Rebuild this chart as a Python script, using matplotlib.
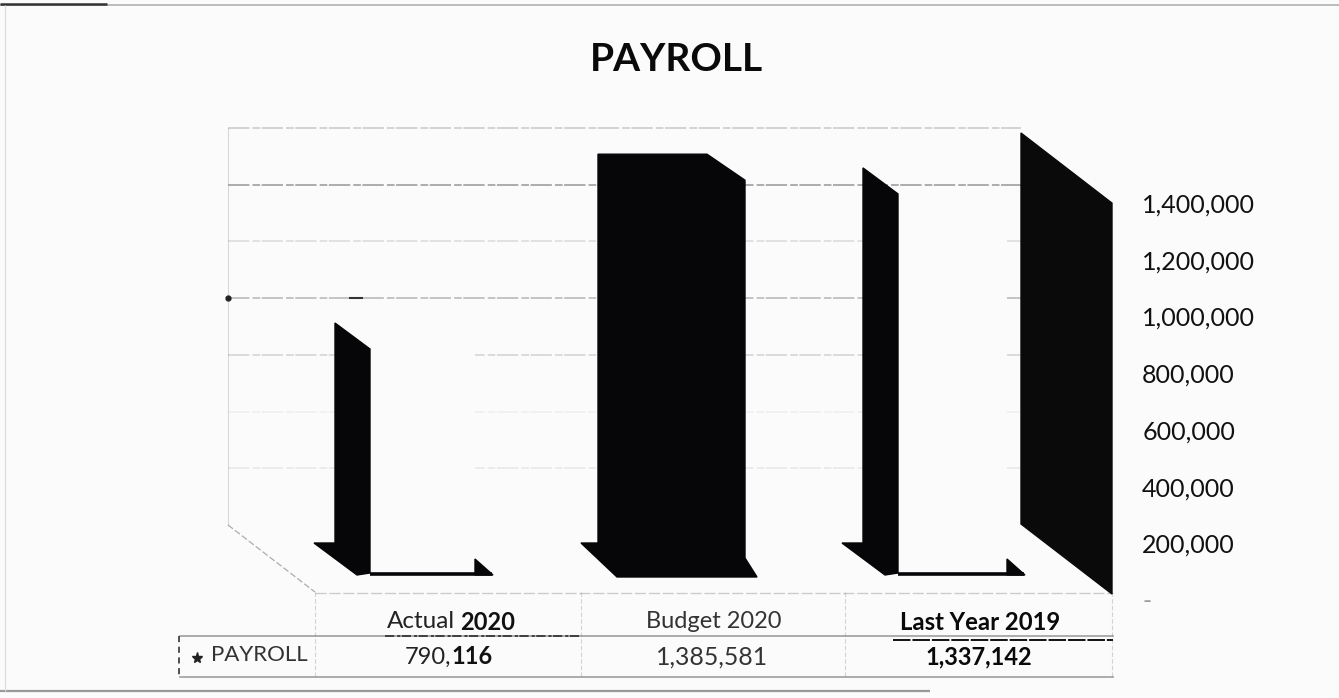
import matplotlib
matplotlib.use("Agg")
import matplotlib.pyplot as plt
from matplotlib.patches import Polygon, Rectangle

categories = ["Actual", "Budget", "Last Year"]
years = ["2020", "2020", "2019"]
payroll = [790116, 1385581, 1337142]
wall_value = 1400000
ticks = [0, 200000, 400000, 600000, 800000, 1000000, 1200000, 1400000]
tick_labels = ["-", "200,000", "400,000", "600,000", "800,000", "1,000,000", "1,200,000", "1,400,000"]

# layout, in pixels of the 1339x698 picture
side_left = [335, 598, 863]
front_left = [370, 598, 898]
front_right = [475, 745, 1007]
DEPTH_X, DEPTH_Y = 36, 26
PX = 200000 / 56.7  # payroll units per pixel
ZERO = 600          # picture row of value 0 on the axis


def yp(row):
    # picture row -> value units
    return (ZERO - row) * PX


BG = "#fbfbfb"
plt.rcParams["font.family"] = ["Lato", "DejaVu Sans"]

fig = plt.figure(figsize=(13.39, 6.98), dpi=100, facecolor=BG)
ax = fig.add_axes([0, 0, 1113 / 1339, 1])
ax.set_facecolor(BG)
ax.set_xlim(0, 1113)
ax.set_ylim(yp(698), yp(0))
for s in ax.spines.values():
    s.set_visible(False)
ax.xaxis.set_visible(False)
ax.yaxis.tick_right()
ax.set_yticks(ticks)
ax.set_yticklabels(tick_labels)
ax.tick_params(axis="y", length=0, pad=21, labelsize=18, labelcolor="#111111")
ax.get_yticklabels()[0].set_color("#999999")

# back wall gridlines, wall zero sits 75 px above the axis zero
wall_zero = yp(525)
grid_alpha = [0, 0.12, 0.08, 0.25, 0.42, 0.2, 0.6, 0.3]
for t, a in zip(ticks, grid_alpha):
    if a:
        ax.plot([228, 1021], [wall_zero + t] * 2, color="#555555", lw=1.1, alpha=a,
                ls=(0, (14, 2, 5, 1)), zorder=1)
ax.plot([228, 228], [wall_zero, wall_zero + wall_value], color="#999999", lw=0.8, alpha=0.35, zorder=1)
ax.plot([228, 315], [yp(525), yp(592)], color="#777777", lw=0.9, ls=(0, (5, 2)), alpha=0.6, zorder=1)
ax.plot([228], [wall_zero + 800000], marker="o", ms=3.5, color="#222222", zorder=2)
ax.plot([350, 362], [wall_zero + 800000] * 2, color="#333333", lw=1.5, zorder=2)

# right side wall
ax.add_patch(Polygon([(1021, yp(524)), (1021, yp(133)), (1112, wall_value), (1112, yp(594))],
                     color="#0a0a0a", zorder=3))

# bars: black side and feet, second bar is black at the front too
for i, v in enumerate(payroll):
    top = yp(573) + v
    top_back = top + DEPTH_Y * PX
    if i == 1:
        pts = [(598, top_back), (707, top_back), (front_right[i], top), (745, yp(558)),
               (757, yp(577)), (617, yp(577)), (581, yp(543)), (598, yp(543))]
        ax.add_patch(Polygon(pts, color="#060608", zorder=3))
        continue
    ax.add_patch(Rectangle((front_left[i], yp(572)), front_right[i] - front_left[i], v,
                           facecolor=BG, edgecolor="none", zorder=3))
    pts = [(side_left[i], top_back), (front_left[i], top), (front_left[i], yp(573)),
           (side_left[i] + 22, yp(575)), (side_left[i] - 21, yp(543)), (side_left[i], yp(543))]
    ax.add_patch(Polygon(pts, color="#060608", zorder=4))
    ax.plot([front_left[i], front_right[i] + 17], [yp(573.5)] * 2, color="#060608", lw=2.6,
            solid_capstyle="butt", zorder=4)
    ax.add_patch(Polygon([(front_right[i], yp(559)), (front_right[i] + 18, yp(575)), (front_right[i], yp(575))],
                         color="#060608", zorder=4))

# data table under the chart
line_kw = dict(color="#777777", clip_on=False, zorder=2)
ax.plot([315, 1113], [yp(593)] * 2, lw=1.0, alpha=0.35, ls=(0, (8, 2)), **line_kw)
ax.plot([180, 1113], [yp(636)] * 2, lw=1.2, alpha=0.7, **line_kw)
ax.plot([180, 1113], [yp(677)] * 2, lw=1.2, alpha=0.7, **line_kw)
ax.plot([385, 580], [yp(636)] * 2, color="#222222", lw=1.1, ls=(0, (6, 2, 2, 1)), zorder=3)
ax.plot([893, 1113], [yp(640)] * 2, color="#111111", lw=1.4, ls=(0, (9, 1)), zorder=3)
for x in [315, 581, 845, 1112]:
    ax.plot([x, x], [yp(592), yp(677)], lw=0.8, alpha=0.3, ls=(0, (4, 2)), **line_kw)
ax.plot([179, 179], [yp(636), yp(677)], color="#222222", lw=1.1, ls=(0, (4, 3)), zorder=3)

row_head = 622
row_val = 657
ax.text(455, yp(row_head), categories[0], ha="right", va="center", fontsize=17.5, color="#222222")
ax.text(460, yp(row_head), years[0], ha="left", va="center", fontsize=17, fontweight="bold", color="#111111")
ax.text(714, yp(row_head), categories[1] + " " + years[1], ha="center", va="center", fontsize=17, color="#333333")
ax.text(980, yp(row_head + 1), categories[2] + " " + years[2], ha="center", va="center", fontsize=17.2,
        fontweight="bold", color="#0a0a0a")

s = f"{payroll[0]:,}"
ax.text(451, yp(row_val), s[:4], ha="right", va="center", fontsize=17, color="#222222")
ax.text(451, yp(row_val), s[4:], ha="left", va="center", fontsize=17, fontweight="bold", color="#111111")
ax.text(712, yp(row_val), f"{payroll[1]:,}", ha="center", va="center", fontsize=17.8, color="#333333")
ax.text(979, yp(row_val), f"{payroll[2]:,}", ha="center", va="center", fontsize=17, fontweight="bold", color="#0a0a0a")

ax.plot([197], [yp(658)], marker="*", ms=8, color="#222222", zorder=3)
ax.text(211, yp(655), "PAYROLL", ha="left", va="center", fontsize=16, color="#333333")

ax.text(676, yp(60), "PAYROLL", ha="center", va="center", fontsize=28, fontweight="bold", color="#0a0a0a")

# scanned page frame
frame_kw = dict(clip_on=False, solid_capstyle="butt", zorder=1)
ax.plot([0, 1339], [yp(5)] * 2, color="#bbbbbb", lw=1.4, **frame_kw)
ax.plot([0, 107], [yp(4)] * 2, color="#333333", lw=1.8, **frame_kw)
ax.plot([0, 930], [yp(691)] * 2, color="#999999", lw=1.6, **frame_kw)
ax.plot([5, 5], [yp(5), yp(691)], color="#dddddd", lw=0.9, **frame_kw)

fig.savefig("out.png", dpi=100, facecolor=BG)
